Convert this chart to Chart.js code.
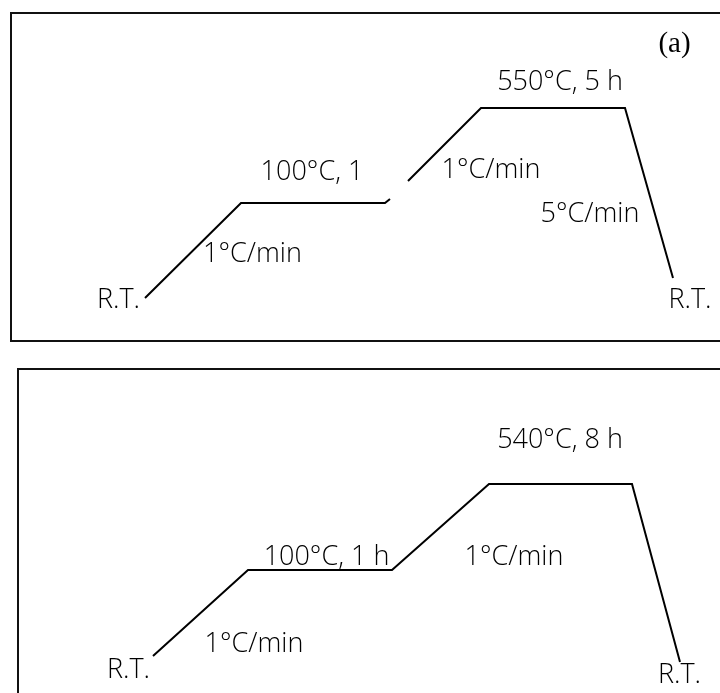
<!DOCTYPE html>
<html>
<head>
<meta charset="utf-8">
<script src="https://cdn.jsdelivr.net/npm/chart.js@4/dist/chart.umd.min.js"></script>
<style>
  body { margin: 0; width: 720px; height: 693px; overflow: hidden; background: #fff; position: relative; }
  .box { position: absolute; border: 2px solid #111; width: 740px; box-sizing: border-box; }
  #boxA { left: 10px; top: 12px; height: 330px; }
  #boxB { left: 17px; top: 368px; height: 400px; }
  canvas { position: absolute; left: 0; }
  #chartA { top: 0; }
  #chartB { top: 350px; }
</style>
</head>
<body>
<div class="box" id="boxA"></div>
<div class="box" id="boxB"></div>
<canvas id="chartA" width="720" height="350"></canvas>
<canvas id="chartB" width="720" height="343"></canvas>
<script>
// Schedule (a): schematic time vs schematic temperature level (null = break in line)
const timeA = [145, 241, 385, 390, 399, 408, 481, 625, 673];
const levelA = [52, 147, 147, 151, null, 169, 242, 242, 72];

// Schedule (b)
const timeB = [153, 248, 392, 489, 632, 680];
const levelB = [37, 123, 123, 209, 209, 31];

// Annotations, panel (a)
const labelsA = ["R.T.", "1°C/min", "100°C, 1", "1°C/min", "550°C, 5 h", "5°C/min", "R.T.", "(a)"];
const labelXA = [118.5, 252.5, 312, 491, 560, 590, 690, 674.5];
const labelYA = [42, 88, 170, 172, 260, 128, 42, 298];

// Annotations, panel (b)
const labelsB = ["R.T.", "1°C/min", "100°C, 1 h", "1°C/min", "540°C, 8 h", "R.T."];
const labelXB = [128.5, 254, 326.5, 514, 560, 679.5];
const labelYB = [15, 41, 128, 128, 245, 10];

const sansFont = "300 27px 'Open Sans', 'Noto Sans', sans-serif";
const serifFont = "29px 'Liberation Serif', serif";

// draws the text notes at data positions
const notesPlugin = {
    id: "notes",
    afterDatasetsDraw(chart, args, opts) {
        const ctx = chart.ctx;
        const xs = chart.scales.x;
        const ys = chart.scales.y;
        ctx.save();
        ctx.fillStyle = "#000";
        ctx.textAlign = "center";
        ctx.textBaseline = "alphabetic";
        opts.texts.forEach((t, i) => {
            ctx.font = t.startsWith("(") ? serifFont : sansFont;
            ctx.fillText(t, xs.getPixelForValue(opts.xs[i]), ys.getPixelForValue(opts.ys[i]));
        });
        ctx.restore();
    }
};

function makeSchedule(canvasId, times, levels, texts, textX, textY, yMax) {
    const points = times.map((t, i) => ({ x: t, y: levels[i] }));
    return new Chart(document.getElementById(canvasId), {
        type: "scatter",
        data: {
            datasets: [{
                data: points,
                showLine: true,
                spanGaps: false,
                borderColor: "#000",
                borderWidth: 2,
                pointRadius: 0,
                tension: 0
            }]
        },
        options: {
            responsive: false,
            animation: false,
            layout: { padding: 0 },
            scales: {
                x: { type: "linear", min: 0, max: 720, display: false },
                y: { type: "linear", min: 0, max: yMax, display: false }
            },
            plugins: {
                legend: { display: false },
                tooltip: { enabled: false },
                notes: { texts: texts, xs: textX, ys: textY }
            }
        },
        plugins: [notesPlugin]
    });
}

makeSchedule("chartA", timeA, levelA, labelsA, labelXA, labelYA, 350);
makeSchedule("chartB", timeB, levelB, labelsB, labelXB, labelYB, 343);
</script>
</body>
</html>
